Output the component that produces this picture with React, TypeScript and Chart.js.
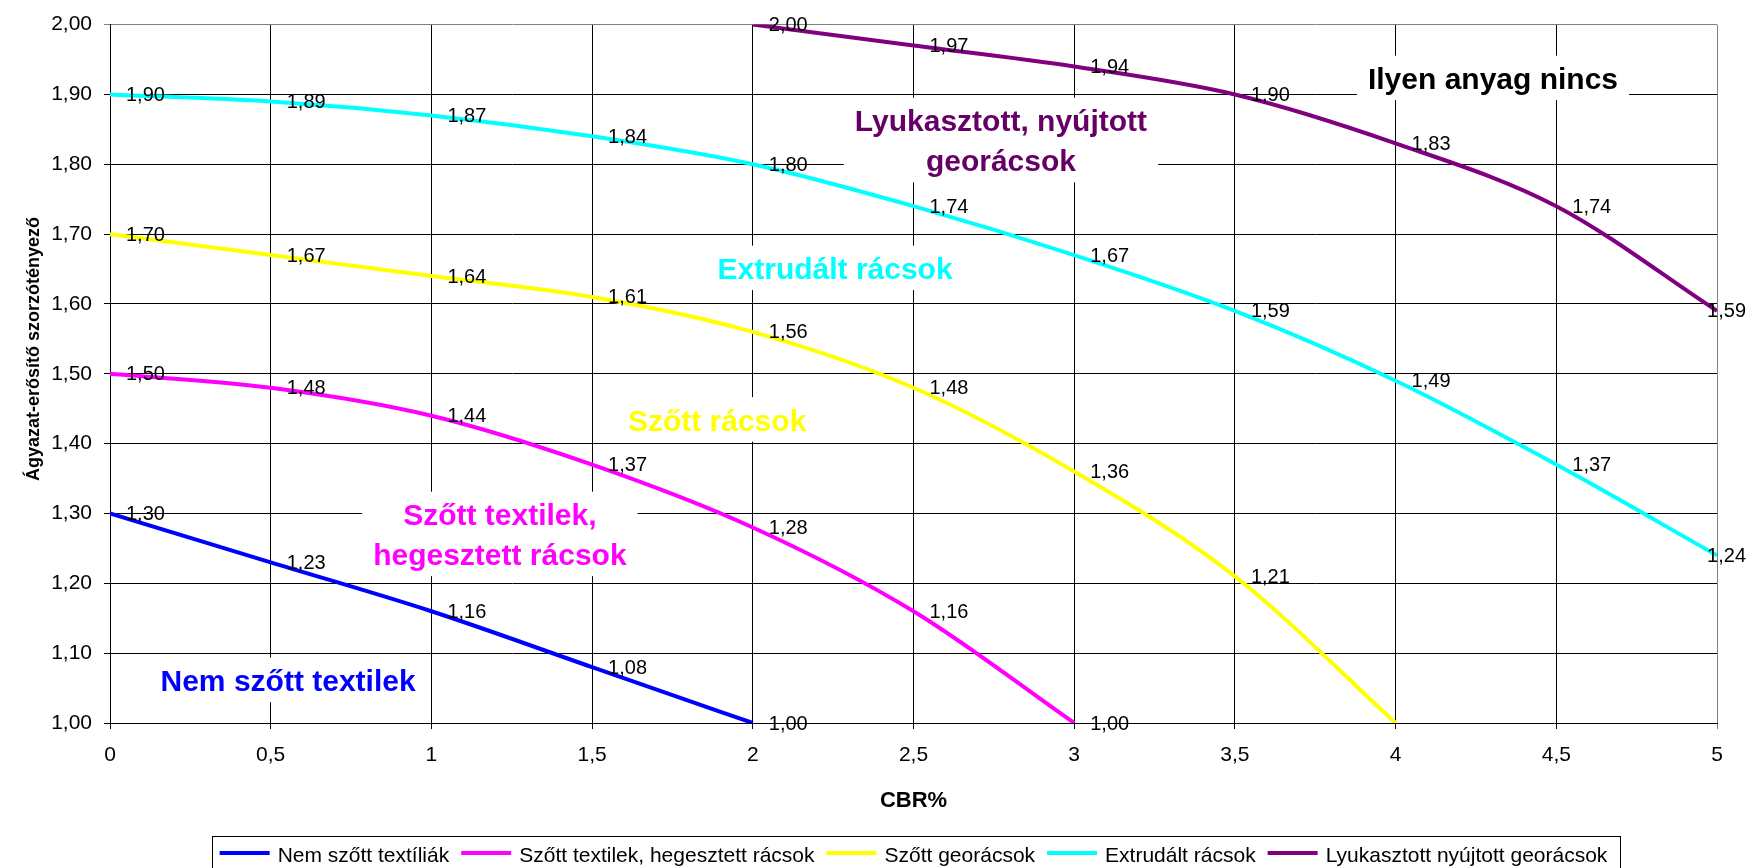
import React, { useEffect, useRef } from 'react';
import { Chart, registerables } from 'chart.js';

Chart.register(...registerables);

const FONT = "'Liberation Sans', Arial, sans-serif";

// ---- Data ----
const seriesNames = [
  'Nem szőtt textíliák',
  'Szőtt textilek, hegesztett rácsok',
  'Szőtt georácsok',
  'Extrudált rácsok',
  'Lyukasztott nyújtott georácsok',
];
const seriesColors = ['#0000FF', '#FF00FF', '#FFFF00', '#00FFFF', '#800080'];

const cbrBlue = [0, 0.5, 1, 1.5, 2];
const valBlue = [1.3, 1.23, 1.16, 1.08, 1.0];
const lblBlue = ['1,30', '1,23', '1,16', '1,08', '1,00'];

const cbrMagenta = [0, 0.5, 1, 1.5, 2, 2.5, 3];
const valMagenta = [1.5, 1.48, 1.44, 1.37, 1.28, 1.16, 1.0];
const lblMagenta = ['1,50', '1,48', '1,44', '1,37', '1,28', '1,16', '1,00'];

const cbrYellow = [0, 0.5, 1, 1.5, 2, 2.5, 3, 3.5, 4];
const valYellow = [1.7, 1.67, 1.64, 1.61, 1.56, 1.48, 1.36, 1.21, 1.0];
const lblYellow = ['1,70', '1,67', '1,64', '1,61', '1,56', '1,48', '1,36', '1,21', ''];

const cbrCyan = [0, 0.5, 1, 1.5, 2, 2.5, 3, 3.5, 4, 4.5, 5];
const valCyan = [1.9, 1.89, 1.87, 1.84, 1.8, 1.74, 1.67, 1.59, 1.49, 1.37, 1.24];
const lblCyan = ['1,90', '1,89', '1,87', '1,84', '1,80', '1,74', '1,67', '1,59', '1,49', '1,37', '1,24'];

const cbrPurple = [2, 2.5, 3, 3.5, 4, 4.5, 5];
const valPurple = [2.0, 1.97, 1.94, 1.9, 1.83, 1.74, 1.59];
const lblPurple = ['2,00', '1,97', '1,94', '1,90', '1,83', '1,74', '1,59'];

const seriesX = [cbrBlue, cbrMagenta, cbrYellow, cbrCyan, cbrPurple];
const seriesY = [valBlue, valMagenta, valYellow, valCyan, valPurple];
const seriesLabels = [lblBlue, lblMagenta, lblYellow, lblCyan, lblPurple];

const xTickLabels = ['0', '0,5', '1', '1,5', '2', '2,5', '3', '3,5', '4', '4,5', '5'];
const yTickLabels = ['1,00', '1,10', '1,20', '1,30', '1,40', '1,50', '1,60', '1,70', '1,80', '1,90', '2,00'];

const xTitle = 'CBR%';
const yTitle = 'Ágyazat-erősítő szorzótényező';

// ---- In-plot notes ----
const noteTexts = [
  ['Nem szőtt textilek'],
  ['Szőtt textilek,', 'hegesztett rácsok'],
  ['Szőtt rácsok'],
  ['Extrudált rácsok'],
  ['Lyukasztott, nyújtott', 'georácsok'],
  ['Ilyen anyag nincs'],
];
const noteColors = ['#0000FF', '#FF00FF', '#FFFF00', '#00FFFF', '#660066', '#000000'];
const noteX = [0.554, 1.213, 1.889, 2.256, 2.772, 4.303];
const noteY = [1.061, 1.27, 1.434, 1.651, 1.834, 1.923];

const notesPlugin = {
  id: 'notes',
  beforeDatasetsDraw(chart: any) {
    const { ctx, scales } = chart;
    const fs = 30;
    const lh = 40;
    const capHalf = 0.716 * fs / 2;
    ctx.save();
    ctx.font = `bold ${fs}px ${FONT}`;
    ctx.textAlign = 'center';
    ctx.textBaseline = 'alphabetic';
    noteTexts.forEach((lines, i) => {
      const cx = scales.x.getPixelForValue(noteX[i]);
      const cy = scales.y.getPixelForValue(noteY[i]);
      const n = lines.length;
      const maxW = Math.max(...lines.map((l) => ctx.measureText(l).width));
      const firstCap = cy - ((n - 1) / 2) * lh;
      const lastBase = cy + ((n - 1) / 2) * lh + capHalf;
      const top = firstCap - capHalf - 12;
      const bottom = lastBase + 11;
      ctx.fillStyle = '#FFFFFF';
      ctx.fillRect(cx - maxW / 2 - 11, top, maxW + 22, bottom - top);
      ctx.fillStyle = noteColors[i];
      lines.forEach((l, j) => {
        ctx.fillText(l, cx, firstCap + j * lh + capHalf);
      });
    });
    ctx.restore();
  },
};

const labelsPlugin = {
  id: 'dataLabels',
  afterDatasetsDraw(chart: any) {
    const { ctx } = chart;
    ctx.save();
    ctx.font = `20px ${FONT}`;
    ctx.fillStyle = '#000';
    ctx.textAlign = 'left';
    ctx.textBaseline = 'middle';
    chart.data.datasets.forEach((ds: any, di: number) => {
      const meta = chart.getDatasetMeta(di);
      meta.data.forEach((pt: any, pi: number) => {
        const t = seriesLabels[di][pi];
        if (!t) return;
        const w = ctx.measureText(t).width;
        let x = pt.x + 16;
        if (x + w > chart.width - 3) x = chart.width - 3 - w;
        ctx.fillText(t, x, pt.y + 1);
      });
    });
    ctx.restore();
  },
};

const framePlugin = {
  id: 'frame',
  afterDraw(chart: any) {
    const { ctx, chartArea } = chart;
    ctx.save();
    // axis titles
    ctx.fillStyle = '#000';
    ctx.font = `bold 22px ${FONT}`;
    ctx.textAlign = 'center';
    ctx.textBaseline = 'alphabetic';
    ctx.fillText(xTitle, (chartArea.left + chartArea.right) / 2, 807);
    ctx.save();
    ctx.translate(34, 349);
    ctx.rotate(-Math.PI / 2);
    ctx.font = `bold 18px ${FONT}`;
    ctx.textBaseline = 'middle';
    ctx.fillText(yTitle, 0, 0);
    ctx.restore();

    // legend
    ctx.font = `21px ${FONT}`;
    const lineLen = 50;
    const gapText = 8;
    const gapItem = 12;
    const widths = seriesNames.map((n) => ctx.measureText(n).width);
    const total =
      widths.reduce((a, b) => a + b, 0) +
      seriesNames.length * (lineLen + gapText) +
      (seriesNames.length - 1) * gapItem;
    let x = (chartArea.left + chartArea.right) / 2 - total / 2;
    const boxLeft = x - 8;
    const boxRight = x + total + 12;
    ctx.strokeStyle = '#000';
    ctx.lineWidth = 1;
    ctx.strokeRect(Math.round(boxLeft) + 0.5, 836.5, Math.round(boxRight - boxLeft), 40);
    ctx.textAlign = 'left';
    ctx.textBaseline = 'alphabetic';
    seriesNames.forEach((n, i) => {
      ctx.strokeStyle = seriesColors[i];
      ctx.lineWidth = 4;
      ctx.beginPath();
      ctx.moveTo(x, 853);
      ctx.lineTo(x + lineLen, 853);
      ctx.stroke();
      x += lineLen + gapText;
      ctx.fillStyle = '#000';
      ctx.fillText(n, x, 862);
      x += widths[i] + gapItem;
    });
    ctx.restore();
  },
};

export default function App() {
  const ref = useRef<HTMLCanvasElement>(null);
  useEffect(() => {
    const canvas = ref.current!;
    const datasets = seriesNames.map((name, i) => ({
      label: name,
      data: seriesX[i].map((x, j) => ({ x, y: seriesY[i][j] })),
      borderColor: seriesColors[i],
      backgroundColor: seriesColors[i],
      borderWidth: 4,
      pointRadius: 0,
      fill: false,
      cubicInterpolationMode: 'monotone' as const,
    }));
    const gridColor = (edge: number) => (c: any) =>
      c.tick && Math.abs(c.tick.value - edge) < 1e-6 ? '#808080' : '#000000';
    const chart = new Chart(canvas, {
      type: 'line',
      data: { datasets },
      options: {
        responsive: false,
        animation: false,
        devicePixelRatio: 1,
        layout: { padding: { left: 0, top: 20, right: 32, bottom: 95 } },
        plugins: {
          legend: { display: false },
          tooltip: { enabled: false },
        },
        scales: {
          x: {
            type: 'linear',
            min: 0,
            max: 5,
            afterFit: (s: any) => {
              s.height = 50;
            },
            ticks: {
              stepSize: 0.5,
              autoSkip: false,
              maxRotation: 0,
              padding: 14,
              color: '#000',
              font: { size: 21, family: FONT },
              callback: (_v: any, i: number) => xTickLabels[i],
            },
            grid: { color: gridColor(5), lineWidth: 1, tickLength: 6 },
            border: { color: '#000', width: 1 },
          },
          y: {
            type: 'linear',
            min: 1,
            max: 2,
            afterFit: (s: any) => {
              s.width = 110;
            },
            ticks: {
              stepSize: 0.1,
              autoSkip: false,
              padding: 12,
              color: '#000',
              font: { size: 21, family: FONT },
              callback: (_v: any, i: number) => yTickLabels[i],
            },
            grid: { color: gridColor(2), lineWidth: 1, tickLength: 6 },
            border: { color: '#000', width: 1 },
          },
        },
      } as any,
      plugins: [notesPlugin, labelsPlugin, framePlugin],
    });
    return () => chart.destroy();
  }, []);
  return (
    <canvas
      ref={ref}
      width={1749}
      height={868}
      style={{ position: 'fixed', left: 0, top: 0, display: 'block', background: '#fff' }}
    />
  );
}
